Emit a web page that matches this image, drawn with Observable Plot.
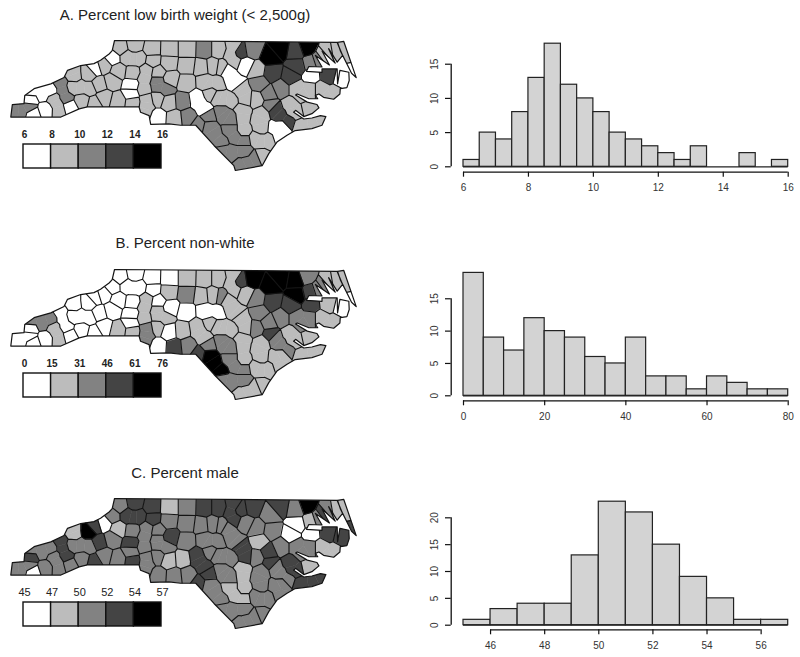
<!DOCTYPE html>
<html>
<head>
<meta charset="utf-8">
<script src="https://cdn.jsdelivr.net/npm/d3@7"></script>
<script src="https://cdn.jsdelivr.net/npm/@observablehq/plot@0.6"></script>
<style>
  html, body { margin: 0; padding: 0; background: #fff; }
  #page { position: relative; width: 800px; height: 657px; overflow: hidden; font-family: "Liberation Sans", Arial, sans-serif; }
  #page > * { position: absolute; }
  .title { width: 370px; text-align: center; font-size: 15px; color: #222; line-height: 16px; }
  svg { overflow: visible; }
</style>
</head>
<body>
<div id="page"></div>
<script>
const countyNames = ["Alamance","Alexander","Alleghany","Anson","Ashe","Avery","Beaufort","Bertie","Bladen","Brunswick","Buncombe","Burke","Cabarrus","Caldwell","Camden","Carteret","Caswell","Catawba","Chatham","Cherokee","Chowan","Clay","Cleveland","Columbus","Craven","Cumberland","Currituck","Dare","Davidson","Davie","Duplin","Durham","Edgecombe","Forsyth","Franklin","Gaston","Gates","Graham","Granville","Greene","Guilford","Halifax","Harnett","Haywood","Henderson","Hertford","Hoke","Hyde","Iredell","Jackson","Johnston","Jones","Lee","Lenoir","Lincoln","McDowell","Macon","Madison","Martin","Mecklenburg","Mitchell","Montgomery","Moore","Nash","New Hanover","Northampton","Onslow","Orange","Pamlico","Pasquotank","Pender","Perquimans","Person","Pitt","Polk","Randolph","Richmond","Robeson","Rockingham","Rowan","Rutherford","Sampson","Scotland","Stanly","Stokes","Surry","Swain","Transylvania","Tyrrell","Union","Vance","Wake","Warren","Washington","Watauga","Wayne","Wilkes","Wilson","Yadkin","Yancey"];
const countyLon = [-79.40,-81.18,-81.13,-80.11,-81.50,-81.92,-76.84,-76.96,-78.54,-78.23,-82.53,-81.71,-80.55,-81.55,-76.16,-76.53,-79.33,-81.21,-79.25,-84.06,-76.60,-83.75,-81.56,-78.65,-77.08,-78.83,-75.94,-75.80,-80.21,-80.54,-77.93,-78.88,-77.60,-80.26,-78.28,-81.18,-76.70,-83.83,-78.65,-77.68,-79.79,-77.64,-78.87,-82.98,-82.48,-76.98,-79.24,-76.15,-80.87,-83.14,-78.37,-77.36,-79.17,-77.64,-81.22,-82.05,-83.42,-82.71,-77.11,-80.83,-82.16,-79.90,-79.48,-77.99,-77.87,-77.40,-77.50,-79.12,-76.67,-76.26,-77.90,-76.41,-78.97,-77.37,-82.17,-79.81,-79.75,-79.10,-79.78,-80.53,-81.92,-78.37,-79.48,-80.25,-80.24,-80.69,-83.49,-82.80,-76.17,-80.53,-78.41,-78.65,-78.11,-76.57,-81.70,-78.00,-81.16,-77.92,-80.67,-82.31];
const countyLat = [36.04,35.92,36.49,34.97,36.43,36.07,35.48,36.06,34.59,34.04,35.61,35.75,35.39,35.96,36.34,34.86,36.39,35.66,35.70,35.13,36.13,35.06,35.33,34.27,35.12,35.05,36.37,35.80,35.79,35.93,34.93,36.03,35.92,36.13,36.08,35.29,36.44,35.35,36.30,35.48,36.08,36.25,35.37,35.56,35.34,36.36,35.02,35.41,35.81,35.29,35.52,35.02,35.48,35.24,35.49,35.68,35.15,35.86,35.84,35.25,36.01,35.33,35.31,35.97,34.18,36.42,34.76,36.06,35.15,36.27,34.51,36.18,36.39,35.59,35.28,35.71,35.00,34.64,36.40,35.64,35.40,34.99,34.84,35.31,36.40,36.41,35.49,35.20,35.87,34.99,36.36,35.79,36.40,35.84,36.23,35.36,36.21,35.70,36.16,35.90];

// Extra seed points for long or large counties
const extraCounty = ["Sampson","Sampson","Robeson","Robeson","Columbus","Columbus","Brunswick","Brunswick","Bladen","Bladen","Pender","Pender","Onslow","Onslow","Duplin","Duplin","Jones","Jones","Carteret","Carteret","Craven","Craven","Beaufort","Beaufort","Hyde","Hyde","Wake","Wake","Johnston","Johnston","Harnett","Harnett","Cumberland","Cumberland","Moore","Moore","Chatham","Chatham","Granville","Granville","Swain","Swain","Haywood","Haywood","Jackson","Jackson","Cherokee","Cherokee","Madison","Buncombe","Buncombe","Wilkes","Wilkes","Iredell","Iredell","Rowan","Rowan","Mecklenburg","Mecklenburg"];
const extraLon = [-78.36,-78.32,-79.22,-78.92,-78.88,-78.32,-78.36,-78.02,-78.66,-78.32,-78.02,-77.68,-77.34,-77.42,-77.85,-77.89,-77.51,-77.21,-76.82,-76.35,-77.12,-76.95,-76.95,-76.61,-76.35,-76.01,-78.75,-78.49,-78.45,-78.28,-79.00,-78.66,-78.88,-78.66,-79.52,-79.35,-79.31,-79.01,-78.58,-78.58,-83.81,-83.29,-83.03,-82.91,-83.20,-83.08,-84.19,-83.85,-82.73,-82.73,-82.31,-81.32,-81.02,-80.81,-80.89,-80.55,-80.33,-80.81,-80.89];
const extraLat = [35.14,34.72,34.79,34.48,34.31,34.31,33.99,34.13,34.72,34.51,34.55,34.51,34.83,34.58,35.07,34.79,35.14,34.93,34.83,34.93,35.24,35.10,35.59,35.59,35.59,35.48,35.97,35.66,35.62,35.38,35.41,35.35,35.10,34.96,35.38,35.17,35.73,35.69,36.45,36.17,35.55,35.55,35.69,35.41,35.38,35.14,35.14,35.21,35.90,35.62,35.59,36.24,36.21,35.97,35.59,35.73,35.59,35.35,35.10];

// Class (1–5) of each county, in the order of countyNames
const lowBirthClass = [2,2,2,2,2,2,2,4,3,3, 2,2,2,2,2,2,3,1,2,3, 3,1,2,3,2,3,2,1,2,2, 2,2,4,2,1,2,5,1,2,3, 2,5,2,3,2,4,3,2,2,2, 2,4,2,3,1,2,1,2,4,2, 1,3,1,2,2,5,1,2,2,2, 2,3,2,3,2,2,3,3,2,3, 2,2,3,2,2,2,1,1,4,1, 4,1,3,1,1,2,2,3,2,2];
const nonWhiteClass = [2,1,1,4,1,1,3,5,3,2, 1,1,2,1,2,2,2,1,1,1, 4,1,2,3,2,3,2,1,1,1, 2,3,4,2,2,2,3,1,2,3, 3,5,2,1,1,5,3,2,2,2, 2,3,2,4,1,1,1,1,4,3, 1,2,2,3,2,5,2,2,2,3, 2,3,2,3,1,1,3,5,2,2, 1,2,4,1,1,1,3,1,2,1, 4,2,5,4,1,3,1,3,1,1];
const maleClass = [3,3,4,3,3,1,3,1,2,3, 3,3,3,2,3,4,4,4,3,3, 2,1,3,3,4,3,2,4,4,3, 3,3,3,3,3,4,5,4,4,4, 3,3,3,4,3,3,4,2,3,3, 4,3,3,4,3,4,3,2,1,3, 4,2,4,3,3,4,3,3,2,4, 3,3,4,3,4,3,3,3,3,3, 3,2,4,2,2,4,3,3,4,3, 4,3,4,1,3,3,4,2,4,5];

// State outline, [lon, lat]
const stateOutline = [[-81.65,36.59],[-75.92,36.55],[-75.78,36.28],[-75.92,36.14],[-76.14,36.42],[-75.97,36.12],[-76.31,36.37],[-76.12,36.08],[-76.48,36.28],[-76.31,36.04],[-76.65,36.05],[-76.71,35.95],[-76.31,35.93],[-76.31,36.00],[-75.92,36.00],[-75.91,35.69],[-75.85,35.97],[-75.62,35.93],[-75.61,35.76],[-75.67,35.61],[-75.84,35.59],[-75.85,35.48],[-76.01,35.37],[-76.27,35.41],[-76.39,35.48],[-76.48,35.45],[-76.42,35.38],[-76.65,35.38],[-76.95,35.48],[-76.99,35.46],[-76.69,35.31],[-76.44,35.26],[-76.39,35.19],[-76.57,35.07],[-76.78,35.01],[-76.99,35.14],[-77.04,35.10],[-76.78,34.96],[-76.57,34.98],[-76.35,35.03],[-76.21,35.01],[-76.31,34.83],[-76.57,34.76],[-77.00,34.72],[-77.21,34.62],[-77.47,34.48],[-77.68,34.24],[-77.85,33.99],[-78.54,33.89],[-78.58,33.99],[-79.09,34.41],[-79.56,34.83],[-79.95,34.83],[-80.25,34.86],[-80.72,34.85],[-80.76,35.03],[-80.98,35.10],[-81.02,35.21],[-82.35,35.21],[-82.56,35.17],[-83.03,35.00],[-84.32,35.00],[-84.28,35.26],[-83.98,35.28],[-83.96,35.45],[-83.72,35.59],[-83.29,35.69],[-82.95,35.82],[-82.86,35.97],[-82.52,36.07],[-82.18,36.11],[-82.01,36.18],[-81.79,36.31],[-81.71,36.38]];
const outerBanks = [[-75.91,36.55],[-75.75,36.57],[-75.43,35.82],[-75.55,35.91],[-75.84,36.38]];

const shades = ["#ffffff","#bcbcbc","#828282","#444444","#000000"];

const lowBirthBreaks = ["6","8","10","12","14","16"];
const nonWhiteBreaks = ["0","15","31","46","61","76"];
const maleBreaks = ["45","47","50","52","54","57"];

const lowBirthEdges = [6,6.5,7,7.5,8,8.5,9,9.5,10,10.5,11,11.5,12,12.5,13,13.5,14,14.5,15,15.5,16];
const lowBirthCounts = [1,5,4,8,13,18,12,10,8,5,4,3,2,1,3,0,0,2,0,1];
const nonWhiteEdges = [0,5,10,15,20,25,30,35,40,45,50,55,60,65,70,75,80];
const nonWhiteCounts = [19,9,7,12,10,9,6,5,9,3,3,1,3,2,1,1];
const maleEdges = [45,46,47,48,49,50,51,52,53,54,55,56,57];
const maleCounts = [1,3,4,4,13,23,21,15,9,5,1,1];

const lowBirthXTicks = [6,8,10,12,14,16];
const nonWhiteXTicks = [0,20,40,60,80];
const maleXTicks = [46,48,50,52,54,56];
const lowBirthYTicks = [0,5,10,15];
const nonWhiteYTicks = [0,5,10,15];
const maleYTicks = [0,5,10,15,20];

const FONT = '"Liberation Sans", Arial, sans-serif';
const page = document.getElementById("page");
const COS = 0.807;
const planar = (ring) => ring.map(([lon, lat]) => [lon * COS, lat]);
const closed = (ring) => [...ring, ring[0]];

const outlineGeo = {type: "MultiPolygon", coordinates: [[closed(planar(stateOutline))], [closed(planar(outerBanks))]]};

// Seeds: each county's centre plus any extra points; a county is the union of its seeds' Voronoi cells
const seedCounty = [...countyNames.map((_, i) => i), ...extraCounty.map((n) => countyNames.indexOf(n))];
const seeds = planar([
  ...countyLon.map((lon, i) => [lon, countyLat[i]]),
  ...extraLon.map((lon, i) => [lon, extraLat[i]])
]);
const voronoi = d3.Delaunay.from(seeds).voronoi([-75, 30, -55, 40]);
const cells = seeds.map((_, s) => ({
  type: "Feature",
  properties: {county: seedCounty[s]},
  geometry: {type: "Polygon", coordinates: [voronoi.cellPolygon(s)]}
}));
const keyOf = (p) => p[0].toFixed(7) + "," + p[1].toFixed(7);
const borderLines = [];
seeds.forEach((_, a) => {
  const ringA = voronoi.cellPolygon(a);
  for (const b of voronoi.neighbors(a)) {
    if (b <= a || seedCounty[a] === seedCounty[b]) continue;
    const keysB = new Set(voronoi.cellPolygon(b).map(keyOf));
    const shared = ringA.slice(0, -1).filter((p) => keysB.has(keyOf(p)));
    if (shared.length >= 2) borderLines.push(shared.slice(0, 2));
  }
});
const bordersGeo = {type: "MultiLineString", coordinates: borderLines};

function place(el, left, top) {
  el.style.left = left + "px";
  el.style.top = top + "px";
  page.appendChild(el);
}

function addTitle(text, top) {
  const d = document.createElement("div");
  d.className = "title";
  d.textContent = text;
  d.style.left = "0px";
  d.style.top = top + "px";
  page.appendChild(d);
}

function addMap(classes, top) {
  const shade = (d) => shades[classes[d.properties.county] - 1];
  const m = Plot.plot({
    width: 356, height: 140,
    marginTop: 5, marginBottom: 5, marginLeft: 5, marginRight: 5,
    projection: {type: "reflect-y", domain: outlineGeo},
    color: {type: "identity"},
    marks: [
      Plot.geo(cells, {fill: shade, stroke: shade, strokeWidth: 0.6, clip: outlineGeo}),
      Plot.geo(bordersGeo, {fill: "none", stroke: "#141414", strokeWidth: 1.1, clip: outlineGeo}),
      Plot.geo(outlineGeo, {fill: "none", stroke: "#141414", strokeWidth: 1.2})
    ]
  });
  place(m, 5, top);
}

function addLegend(breaks, top, weight, size) {
  const classesIdx = [0, 1, 2, 3, 4];
  const l = Plot.plot({
    width: 160, height: 48,
    marginTop: 19, marginBottom: 5, marginLeft: 8, marginRight: 14,
    x: {domain: [0, 5]}, y: {domain: [0, 1]}, axis: null,
    color: {type: "identity"},
    style: {fontFamily: FONT},
    marks: [
      Plot.rect(classesIdx, {x1: (d) => d, x2: (d) => d + 1, y1: 0, y2: 1, fill: (d) => shades[d], stroke: "#111", strokeWidth: 1.4}),
      Plot.text(breaks, {x: (d, i) => i, y: 1, text: (d) => d, dy: -10, dx: 1, fontSize: size, fontWeight: weight, fill: "#222"})
    ]
  });
  place(l, 15, top);
}

function addHist(edges, counts, xTicks, yTicks, o) {
  const bins = counts.map((c, i) => ({x1: edges[i], x2: edges[i + 1], c}));
  const yMax = d3.max(counts);
  const h = Plot.plot({
    width: 380, height: o.height,
    marginLeft: 30.7, marginRight: 12.3, marginTop: o.marginTop, marginBottom: o.marginBottom,
    insetLeft: 12.3, insetBottom: o.inset,
    x: {domain: [edges[0], edges[edges.length - 1]]},
    y: {domain: [0, yMax]},
    style: {fontFamily: FONT, fontSize: "10px", color: "#333"},
    marks: [
      Plot.rectY(bins.filter((b) => b.c > 0), {x1: "x1", x2: "x2", y1: 0, y2: "c", fill: "#d3d3d3", stroke: "#222", strokeWidth: 1.2}),
      Plot.ruleY([0], {x1: edges[0], x2: edges[edges.length - 1], stroke: "#222", strokeWidth: 1.2}),
      Plot.axisX({ticks: xTicks, tickSize: 5, tickPadding: 7, label: null, tickFormat: (d) => d, stroke: "#111", strokeWidth: 1.2, fontSize: 10}),
      Plot.ruleY([0], {x1: xTicks[0], x2: xTicks[xTicks.length - 1], dy: o.inset, stroke: "#111", strokeWidth: 1.3}),
      Plot.axisY({ticks: yTicks, tickSize: 5.7, tickPadding: 8, tickRotate: -90, label: null, tickFormat: (d) => d, stroke: "#111", strokeWidth: 1.2, fontSize: 10}),
      Plot.ruleX([edges[0]], {y1: yTicks[0], y2: yTicks[yTicks.length - 1], dx: -12.3, stroke: "#111", strokeWidth: 1.3})
    ]
  });
  place(h, 420, o.top);
}

addTitle("A. Percent low birth weight (< 2,500g)", 7);
addTitle("B. Percent non-white", 235);
addTitle("C. Percent male", 465);

addMap(lowBirthClass, 35);
addMap(nonWhiteClass, 264);
addMap(maleClass, 493);

addLegend(lowBirthBreaks, 125, "bold", 10);
addLegend(nonWhiteBreaks, 354.3, "bold", 10);
addLegend(maleBreaks, 583.3, "normal", 11);

addHist(lowBirthEdges, lowBirthCounts, lowBirthXTicks, lowBirthYTicks, {top: 35, height: 165, marginTop: 8.2, marginBottom: 28.3, inset: 5.4});
addHist(nonWhiteEdges, nonWhiteCounts, nonWhiteXTicks, nonWhiteYTicks, {top: 265, height: 165, marginTop: 7.4, marginBottom: 29.7, inset: 5});
addHist(maleEdges, maleCounts, maleXTicks, maleYTicks, {top: 495, height: 160, marginTop: 6.2, marginBottom: 25.7, inset: 4.6});
</script>
</body>
</html>
